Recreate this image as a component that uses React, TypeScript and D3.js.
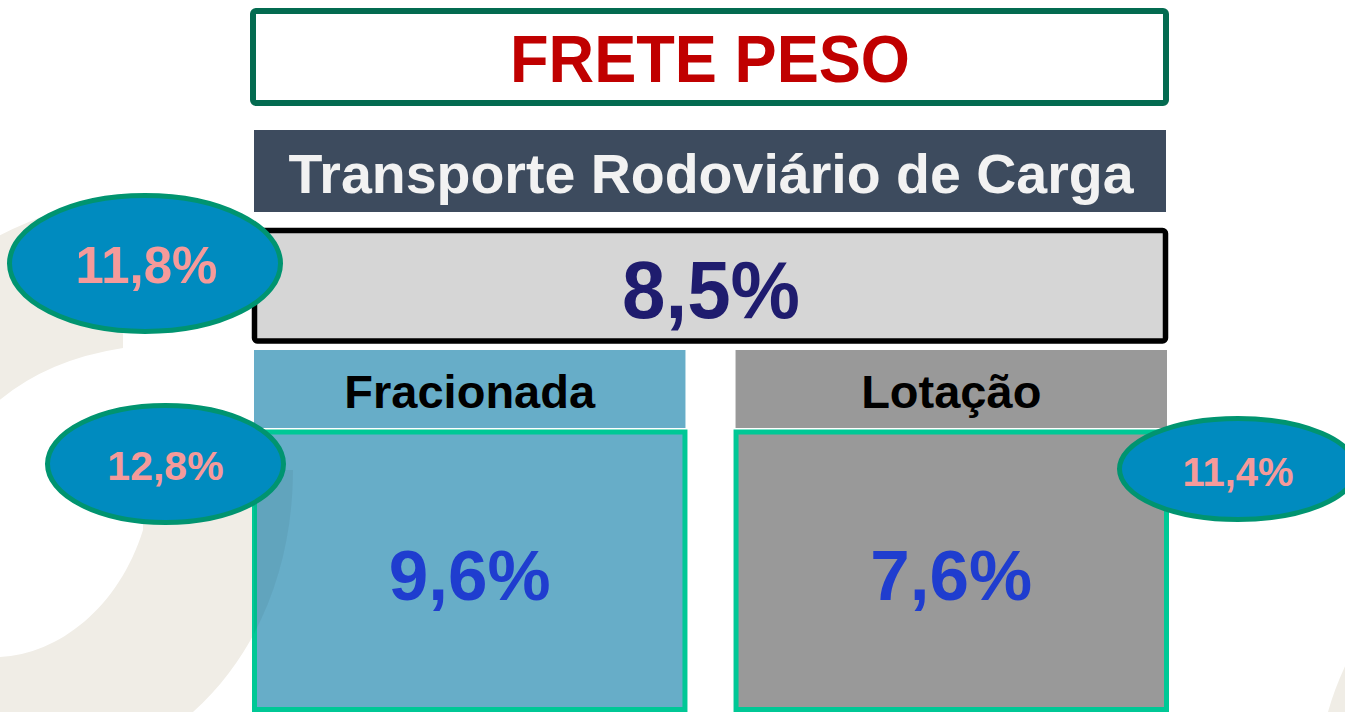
import React from "react";
import * as d3 from "d3";

const title = "FRETE PESO";
const subtitle = "Transporte Rodoviário de Carga";
const totalValue = [8.5];
const totalVariation = [11.8];
const categories = ["Fracionada", "Lotação"];
const categoryValues = [9.6, 7.6];
const categoryVariations = [12.8, 11.4];

const W = 1345;
const H = 712;
const FONT = "'Liberation Sans', Arial, Helvetica, sans-serif";

const locale = d3.formatLocale({ decimal: ",", thousands: ".", grouping: [3], currency: ["R$", ""] });
const fmt = (v: number) => locale.format(".1f")(v) + "%";

export default function App() {
  const x = d3.scaleBand<string>().domain(categories).range([254, 1167]).paddingInner(0.104);
  const colFill = d3.scaleOrdinal<string, string>().domain(categories).range(["#67adc8", "#999999"]);
  const bw = x.bandwidth();

  const bubble = (i: number) => {
    const x0 = x(categories[i])!;
    return i === 0
      ? { cx: x0 - 88.5, cy: 464, rx: 118, ry: 58.5, fs: 41, by: 480 }
      : { cx: x0 + bw + 71, cy: 469, rx: 118.5, ry: 50.5, fs: 40, by: 486 };
  };

  const lowerArm =
    "M 143,470 L 293,470 C 293,560 262,650 193,712 L 193,720 L -5,720 L -5,657 C 55,657 118,610 143,530 Z";
  const upperArm = "M -5,238 Q 50,208 123,196 L 123,348 Q 45,360 -5,404 Z";
  const rightSliver = "M 1328,712 Q 1334,690 1347,662 L 1347,712 Z";

  return (
    <svg
      width={W}
      height={H}
      viewBox={`0 0 ${W} ${H}`}
      style={{ position: "absolute", left: 0, top: 0, background: "#ffffff" }}
      fontFamily={FONT}
    >
      <defs>
        <clipPath id="col0clip">
          <rect x={x(categories[0])} y={432} width={bw} height={280} />
        </clipPath>
      </defs>
      {/* background decoration */}
      <path d={upperArm} fill="#f0ede6" />
      <path d={lowerArm} fill="#f0ede6" />
      <path d={rightSliver} fill="#f0ede6" />

      {/* title box */}
      <rect x={253} y={11} width={913} height={92} rx={3} fill="#ffffff" stroke="#036b50" strokeWidth={6} />
      <text x={710} y={82} textAnchor="middle" fontSize={67} fontWeight="bold" fill="#c00000" textLength={400} lengthAdjust="spacingAndGlyphs">
        {title}
      </text>

      {/* subtitle banner */}
      <rect x={254} y={130} width={912} height={82} fill="#3d4b5e" />
      <text x={711} y={193} textAnchor="middle" fontSize={55.5} fontWeight="bold" fill="#f2f2f2">
        {subtitle}
      </text>

      {/* total box */}
      {totalValue.map((v, i) => (
        <g key={"tot" + i}>
          <rect x={254.5} y={230.5} width={911} height={110.5} rx={3} fill="#d6d6d6" stroke="#000000" strokeWidth={5.5} />
          <text x={711} y={318} textAnchor="middle" fontSize={82} fontWeight="bold" fill="#1f1c6e" textLength={178} lengthAdjust="spacingAndGlyphs">
            {fmt(v)}
          </text>
        </g>
      ))}

      {/* category columns */}
      {categories.map((c, i) => {
        const x0 = x(c)!;
        const cx = x0 + bw / 2;
        return (
          <g key={c}>
            <rect x={x0} y={350} width={bw} height={78} fill={colFill(c)} />
            <text x={cx} y={408} textAnchor="middle" fontSize={47} fontWeight="bold" fill="#000000">
              {c}
            </text>
            <rect x={x0 + 0.5} y={432} width={bw - 1} height={277.5} fill={colFill(c)} stroke="#00c896" strokeWidth={5} />
            <text x={cx} y={600} textAnchor="middle" fontSize={71} fontWeight="bold" fill="#1f3dcf">
              {fmt(categoryValues[i])}
            </text>
          </g>
        );
      })}
      <path d={lowerArm} fill="#000000" opacity={0.05} clipPath="url(#col0clip)" />

      {/* variation bubbles */}
      {totalVariation.map((v, i) => (
        <g key={"tv" + i}>
          <ellipse cx={145} cy={263.5} rx={135.5} ry={68} fill="#008bbf" stroke="#009470" strokeWidth={5} />
          <text x={146.5} y={283} textAnchor="middle" fontSize={51} fontWeight="bold" fill="#f59a9a">
            {fmt(v)}
          </text>
        </g>
      ))}
      {categories.map((c, i) => {
        const b = bubble(i);
        return (
          <g key={"b" + c}>
            <ellipse cx={b.cx} cy={b.cy} rx={b.rx} ry={b.ry} fill="#008bbf" stroke="#009470" strokeWidth={5} />
            <text x={b.cx} y={b.by} textAnchor="middle" fontSize={b.fs} fontWeight="bold" fill="#f59a9a">
              {fmt(categoryVariations[i])}
            </text>
          </g>
        );
      })}
    </svg>
  );
}
